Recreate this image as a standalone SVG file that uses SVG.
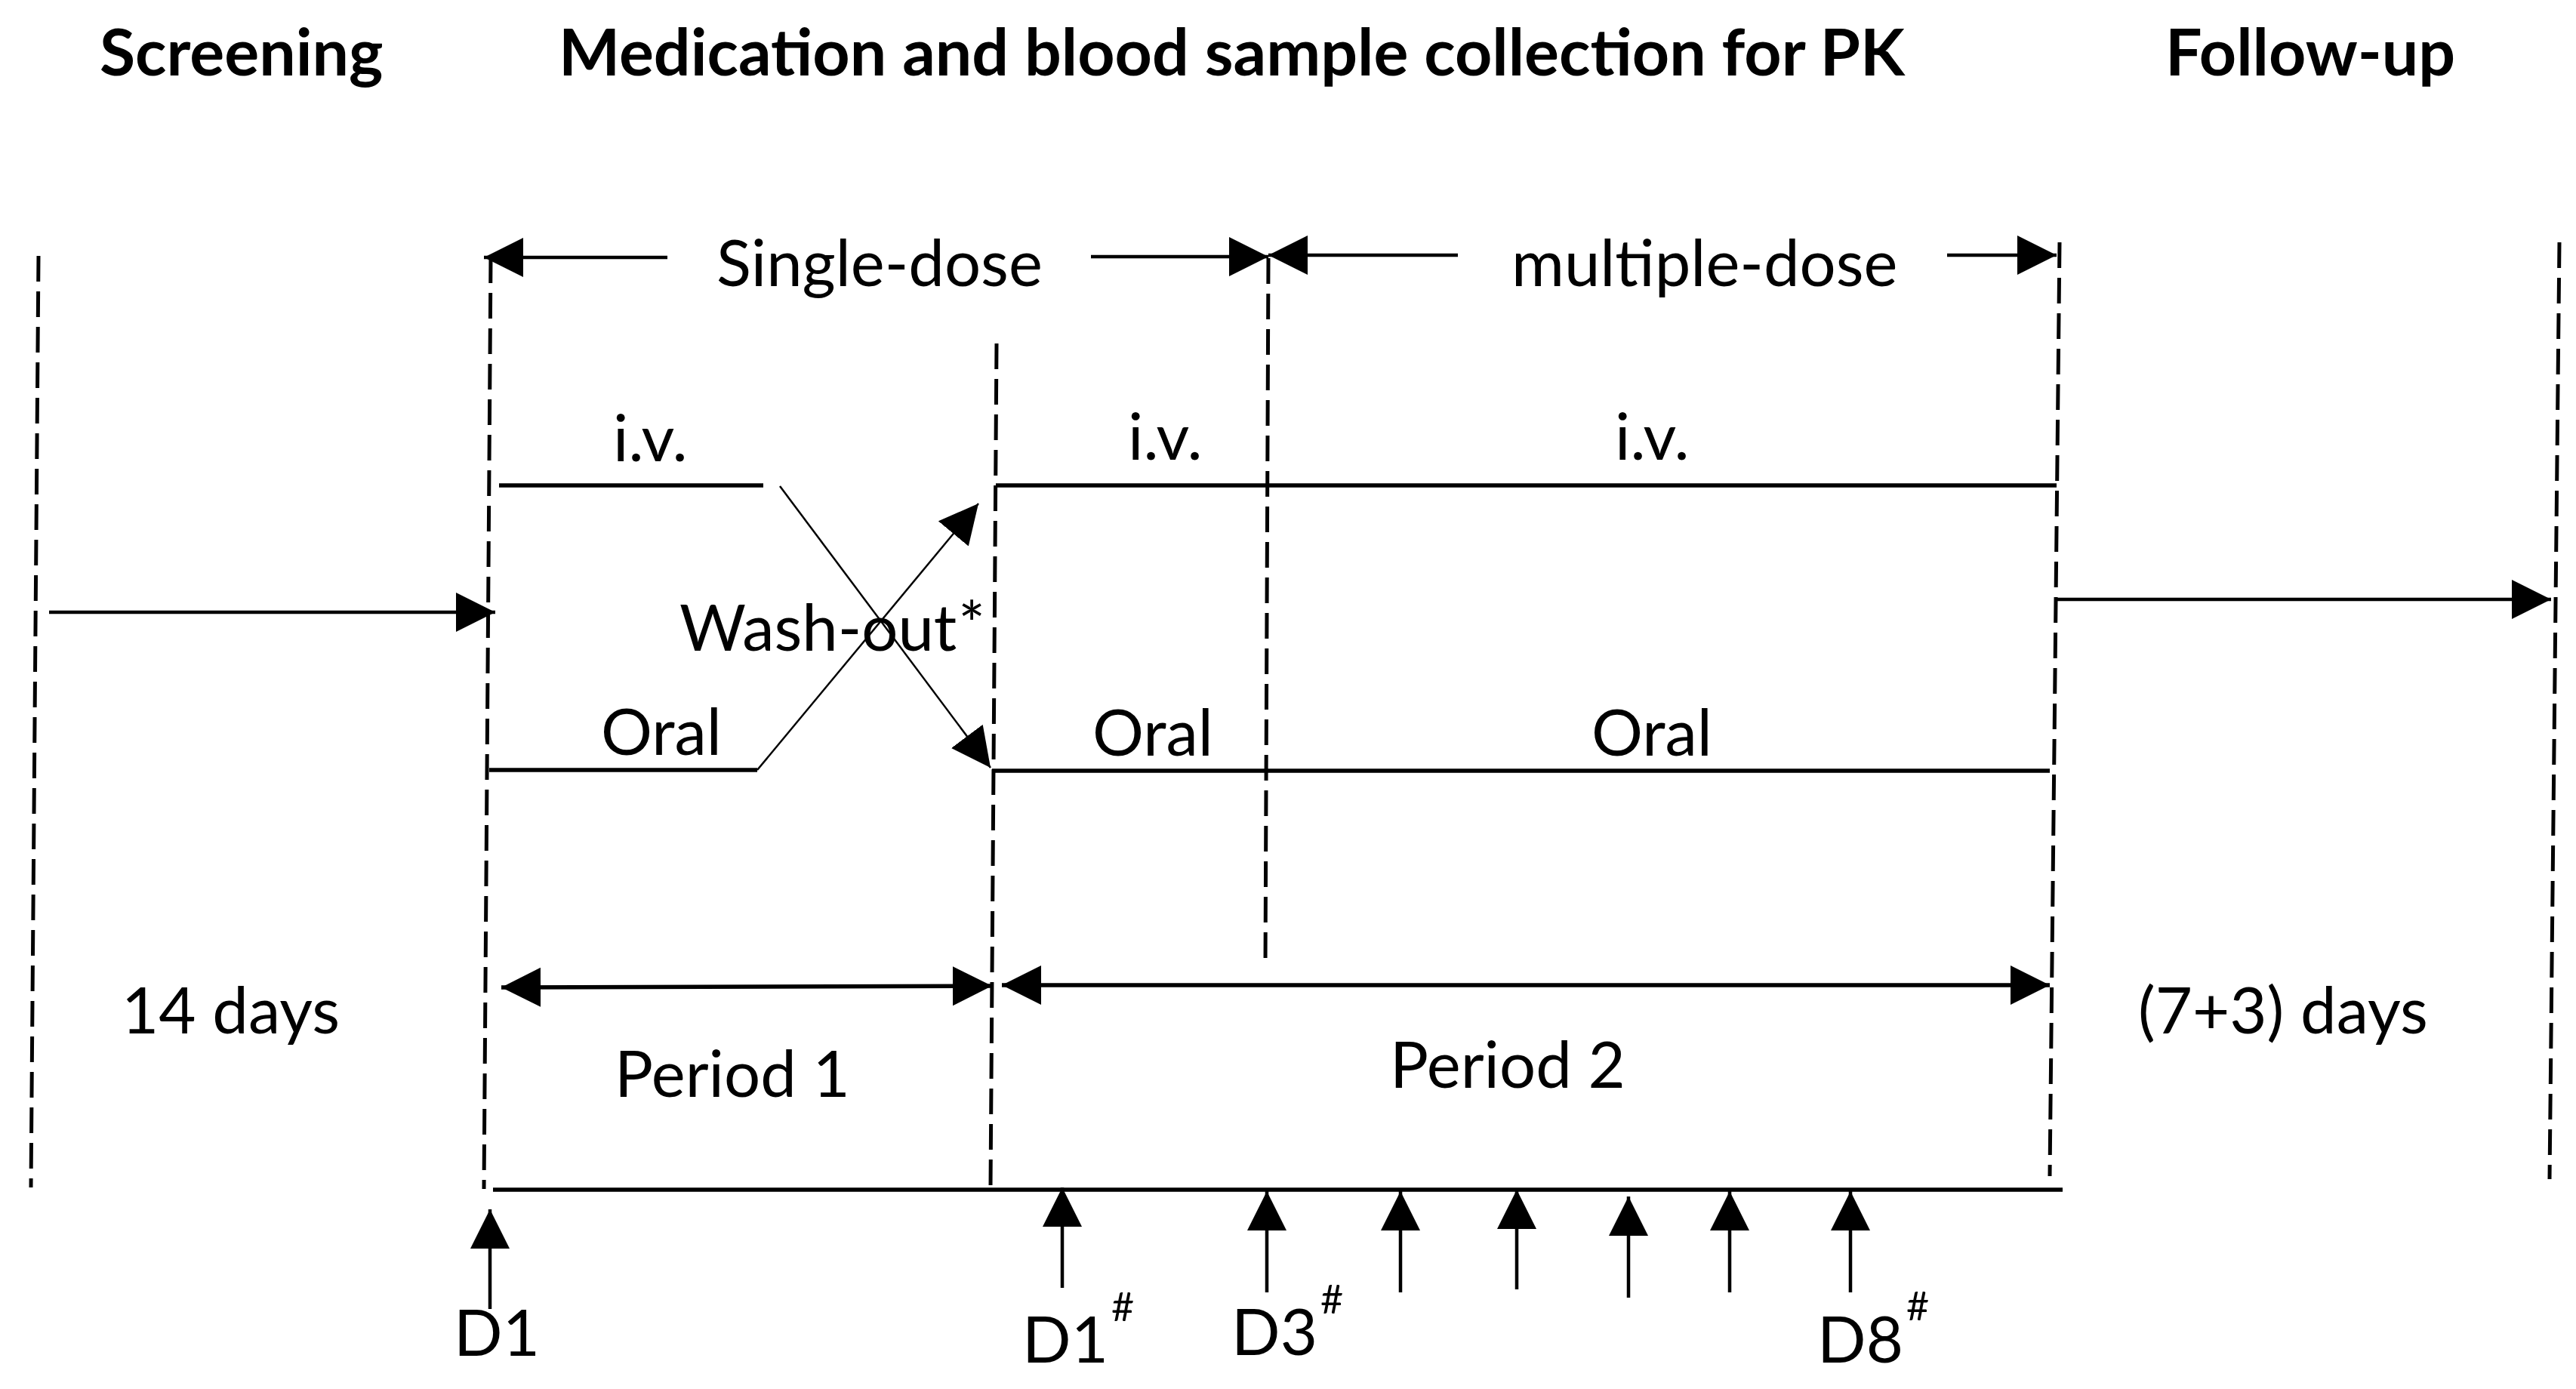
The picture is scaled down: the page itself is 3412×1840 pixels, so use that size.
<svg xmlns="http://www.w3.org/2000/svg" width="3412" height="1840" viewBox="0 0 3412 1840">
<style>
text{font-family:Lato,"Liberation Sans",sans-serif;fill:#000;font-size:85px}
.h{font-weight:bold;font-size:86px}
.sup{font-size:52px}
.ast{font-size:84px}
.dash{stroke:#000;stroke-width:5;stroke-dasharray:34 13;fill:none}
.ln{stroke:#000;stroke-width:5.5;fill:none}
.ar{stroke:#000;stroke-width:4.5;fill:none;marker-end:url(#ah)}
.ar2{stroke:#000;stroke-width:5.5;fill:none;marker-end:url(#ah);marker-start:url(#ahs)}
.tar{stroke:#000;stroke-width:2.5;fill:none;marker-end:url(#ah)}
</style>
<defs>
<marker id="ah" markerUnits="userSpaceOnUse" markerWidth="54" markerHeight="54" refX="52" refY="26" orient="auto">
<path d="M0,0 L52,26 L0,52 z" fill="#000"/>
</marker>
<marker id="ahs" markerUnits="userSpaceOnUse" markerWidth="54" markerHeight="54" refX="52" refY="26" orient="auto-start-reverse">
<path d="M0,0 L52,26 L0,52 z" fill="#000"/>
</marker>
</defs>
<rect width="3412" height="1840" fill="#fff"/>

<g id="headings">
<text id="screening" class="h" x="132" y="100">Screening</text>
<text id="medication" class="h" x="740" y="100">Medication and blood sample collection for PK</text>
<text id="followup" class="h" x="2868" y="100">Follow-up</text>
</g>

<g id="connectors">
<!-- dashed vertical boundaries -->
<line class="dash" x1="51" y1="339" x2="41" y2="1573"/>
<line class="dash" x1="650" y1="341" x2="641" y2="1575"/>
<line class="dash" x1="1320" y1="455" x2="1312" y2="1573"/>
<line class="dash" x1="1680" y1="342" x2="1676" y2="1280"/>
<line class="dash" x1="2728" y1="321" x2="2715" y2="1558"/>
<line class="dash" x1="3390" y1="321" x2="3377" y2="1562"/>

<!-- dose span arrows -->
<line class="ar" x1="884" y1="341" x2="641" y2="341"/>
<line class="ar" x1="1445" y1="340" x2="1680" y2="340"/>
<line class="ar" x1="1931" y1="338" x2="1680" y2="338"/>
<line class="ar" x1="2579" y1="338" x2="2724" y2="338"/>

<!-- screening / follow-up arrows -->
<line class="ar" x1="65" y1="811" x2="656" y2="811"/>
<line class="ar" x1="2724" y1="794" x2="3379" y2="794"/>

<!-- period 1 treatment lines -->
<line class="ln" x1="661" y1="643" x2="1011" y2="643"/>
<line class="ln" x1="648" y1="1020" x2="1003" y2="1020"/>
<line class="tar" x1="1033" y1="644" x2="1312" y2="1017"/>
<line class="tar" x1="1003" y1="1020" x2="1296" y2="667"/>

<!-- period 2 treatment lines -->
<line class="ln" x1="1319" y1="643" x2="2724" y2="643"/>
<line class="ln" x1="1314" y1="1021" x2="2715" y2="1021"/>

<!-- period arrows -->
<line class="ar2" x1="664" y1="1308" x2="1314" y2="1306"/>
<line class="ar2" x1="1327" y1="1305" x2="2715" y2="1305"/>

<!-- timeline -->
<line class="ln" x1="653" y1="1576" x2="2732" y2="1576"/>

<!-- sampling arrows -->
<line class="ar" x1="649" y1="1734" x2="649" y2="1602"/>
<line class="ar" x1="1407" y1="1706" x2="1407" y2="1573"/>
<line class="ar" x1="1678" y1="1712" x2="1678" y2="1578"/>
<line class="ar" x1="1855" y1="1712" x2="1855" y2="1578"/>
<line class="ar" x1="2009" y1="1708" x2="2009" y2="1576"/>
<line class="ar" x1="2157" y1="1719" x2="2157" y2="1585"/>
<line class="ar" x1="2291" y1="1712" x2="2291" y2="1578"/>
<line class="ar" x1="2451" y1="1712" x2="2451" y2="1578"/>
</g>

<g id="labels">
<text id="single-dose" x="949" y="379">Single-dose</text>
<text id="multiple-dose" x="2002" y="379">multiple-dose</text>
<text id="iv1" x="812" y="611">i.v.</text>
<text id="iv2" x="1494" y="609">i.v.</text>
<text id="iv3" x="2139" y="609">i.v.</text>
<text id="oral1" x="796" y="1000">Oral</text>
<text id="oral2" x="1447" y="1001">Oral</text>
<text id="oral3" x="2108" y="1001">Oral</text>
<text id="washout" x="900" y="862">Wash-out<tspan class="ast" dx="2" dy="-5">*</tspan></text>
<text id="days14" x="161" y="1369">14 days</text>
<text id="period1" x="814" y="1453">Period 1</text>
<text id="period2" x="1841" y="1441">Period 2</text>
<text id="days73" x="2832" y="1369">(7+3) days</text>
<text id="d1" x="601" y="1796">D1</text>
<text id="d1b" x="1354" y="1805">D1<tspan class="sup" dx="4" dy="-55">#</tspan></text>
<text id="d3" x="1631" y="1795">D3<tspan class="sup" dx="4" dy="-55">#</tspan></text>
<text id="d8" x="2407" y="1805">D8<tspan class="sup" dx="4" dy="-56">#</tspan></text>
</g>
</svg>
